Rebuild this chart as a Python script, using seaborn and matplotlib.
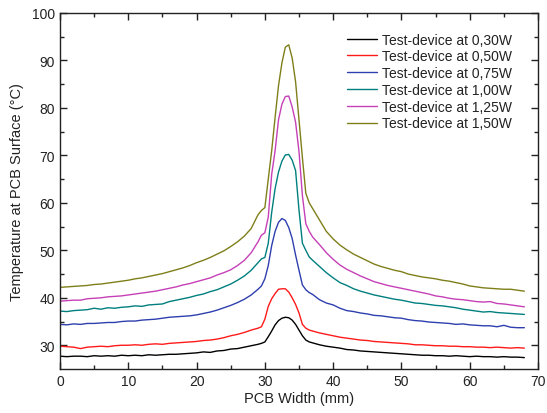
import numpy as np
import pandas as pd
import matplotlib
matplotlib.use("Agg")
import matplotlib.pyplot as plt
import seaborn as sns

# Shared x grid (mm)
x_mm = list(range(0, 30)) + [29.5, 30, 30.5, 31, 31.5, 32, 32.5, 33, 33.5, 34, 34.5, 35, 35.5, 36, 36.5, 37] + list(range(38, 69))

labels = ["Test-device at 0,30W", "Test-device at 0,50W", "Test-device at 0,75W",
          "Test-device at 1,00W", "Test-device at 1,25W", "Test-device at 1,50W"]

t_030 = [27.7, 27.6, 27.7, 27.7, 27.6, 27.8, 27.7, 27.8, 27.7, 27.9, 27.8, 27.9, 27.8, 28.0, 27.9, 28.0, 28.1, 28.1, 28.2, 28.3,
         28.4, 28.6, 28.5, 28.8, 28.9, 29.2, 29.3, 29.6, 29.9, 30.2,
         30.4, 30.7, 31.8, 33.0, 34.3, 35.2, 35.7, 35.9, 35.8, 35.3, 34.4, 33.2, 32.0, 31.1, 30.7, 30.5,
         30.1, 29.8, 29.6, 29.4, 29.1, 29.0, 28.8, 28.7, 28.6, 28.5, 28.4, 28.3, 28.2, 28.1, 28.0, 27.9,
         27.9, 27.8, 27.8, 27.7, 27.8, 27.7, 27.6, 27.7, 27.6, 27.6, 27.5, 27.6, 27.5, 27.5, 27.4]

t_050 = [29.8, 29.7, 29.6, 29.3, 29.6, 29.7, 29.8, 29.7, 29.9, 30.0, 30.0, 30.1, 30.0, 30.2, 30.3, 30.2, 30.4, 30.5, 30.6, 30.7,
         30.8, 31.0, 31.1, 31.3, 31.6, 32.0, 32.3, 32.7, 33.2, 33.6,
         33.9, 35.5, 38.2, 39.8, 40.9, 41.8, 41.9, 41.9, 41.2, 40.0, 38.6, 36.8, 34.4, 33.6, 33.2, 33.0,
         32.6, 32.3, 32.0, 31.7, 31.5, 31.3, 31.1, 31.0, 30.8, 30.7, 30.6, 30.5, 30.4, 30.3, 30.1, 30.1,
         30.0, 29.9, 29.9, 29.8, 29.8, 29.7, 29.7, 29.6, 29.6, 29.5, 29.6, 29.5, 29.4, 29.5, 29.4]

t_075 = [34.4, 34.3, 34.5, 34.4, 34.6, 34.6, 34.7, 34.8, 34.8, 35.0, 35.1, 35.1, 35.3, 35.4, 35.5, 35.7, 35.9, 36.0, 36.1, 36.2,
         36.4, 36.7, 37.0, 37.4, 37.9, 38.4, 39.0, 39.7, 40.6, 41.8,
         42.5, 44.0, 46.8, 51.0, 54.0, 55.9, 56.7, 56.3, 54.8, 52.5, 49.0, 45.8, 42.7, 41.7, 41.1, 40.7,
         39.6, 38.9, 38.5, 37.8, 37.3, 37.1, 36.8, 36.6, 36.3, 36.2, 36.0, 35.8, 35.7, 35.4, 35.2, 35.1,
         34.9, 34.8, 34.7, 34.6, 34.4, 34.5, 34.3, 34.2, 34.1, 34.1, 33.9, 34.2, 33.8, 33.7, 33.7]

t_100 = [37.2, 37.1, 37.3, 37.4, 37.5, 37.8, 37.6, 37.9, 37.8, 38.0, 38.1, 38.3, 38.2, 38.5, 38.6, 38.7, 39.2, 39.5, 39.8, 40.1,
         40.5, 40.8, 41.3, 41.7, 42.3, 42.9, 43.7, 44.6, 45.8, 47.4,
         48.2, 48.5, 51.5, 58.0, 63.0, 66.5, 68.8, 70.1, 70.2, 69.0, 66.8, 58.5, 51.5, 50.0, 48.6, 47.9,
         46.6, 45.3, 44.2, 43.2, 42.6, 41.9, 41.4, 41.0, 40.6, 40.3, 40.0, 39.7, 39.5, 39.2, 38.9, 38.8,
         38.6, 38.4, 38.3, 38.1, 37.9, 37.6, 37.4, 37.2, 37.0, 37.1, 36.9, 36.8, 36.7, 36.6, 36.5]

t_125 = [39.3, 39.4, 39.5, 39.5, 39.8, 39.9, 40.0, 40.2, 40.3, 40.4, 40.6, 40.8, 41.0, 41.2, 41.4, 41.7, 42.0, 42.3, 42.7, 43.0,
         43.4, 43.8, 44.2, 44.8, 45.3, 45.9, 46.8, 47.9, 49.5, 51.8,
         53.2, 53.7, 57.0, 66.0, 71.0, 77.5, 80.8, 82.4, 82.5, 80.2, 77.0, 70.8, 61.5, 55.6, 54.0, 52.8,
         51.2, 49.5, 48.1, 46.9, 46.0, 45.3, 44.6, 44.0, 43.4, 43.0, 42.6, 42.3, 42.0, 41.7, 41.4, 41.1,
         40.8, 40.4, 40.2, 39.9, 39.7, 39.6, 39.4, 39.2, 39.1, 39.2, 38.8, 38.7, 38.5, 38.3, 38.1]

t_150 = [42.2, 42.3, 42.4, 42.5, 42.6, 42.8, 42.9, 43.1, 43.3, 43.5, 43.7, 44.0, 44.2, 44.5, 44.8, 45.1, 45.5, 45.9, 46.3, 46.8,
         47.4, 47.9, 48.5, 49.2, 49.9, 50.8, 51.8, 53.0, 54.6, 57.5,
         58.4, 59.0, 65.0, 71.0, 78.0, 84.7, 89.5, 92.8, 93.3, 90.5, 85.5, 77.5, 69.5, 62.0, 60.0, 58.8,
         56.4, 54.0, 52.4, 51.1, 50.1, 49.2, 48.5, 47.8, 47.1, 46.6, 46.2, 45.8, 45.5, 45.0, 44.7, 44.4,
         44.2, 44.0, 43.7, 43.5, 43.2, 42.9, 42.5, 42.3, 42.1, 42.0, 41.9, 41.8, 41.8, 41.6, 41.4]

colors = ["#000000", "#ff1a1a", "#2e3fae", "#007f7f", "#c640b8", "#7f7f1a"]

series = [t_030, t_050, t_075, t_100, t_125, t_150]
frames = []
for lab, vals in zip(labels, series):
    frames.append(pd.DataFrame({"x": x_mm, "T": vals, "device": lab}))
df = pd.concat(frames, ignore_index=True)

sns.set_style("ticks")
plt.rcParams["font.family"] = ["Liberation Sans", "DejaVu Sans"]
plt.rcParams["text.color"] = "#222222"
plt.rcParams["axes.labelcolor"] = "#222222"
plt.rcParams["xtick.color"] = "#222222"
plt.rcParams["ytick.color"] = "#222222"

fig = plt.figure(figsize=(5.47, 4.14), dpi=100)
ax = fig.add_axes([60 / 547, 1 - 370 / 414, 478 / 547, 356 / 414])

sns.lineplot(data=df, x="x", y="T", hue="device", palette=colors, hue_order=labels,
             estimator=None, sort=False, linewidth=1.0, ax=ax)

ax.set_xlim(0, 70)
ax.set_ylim(25, 100)
ax.set_xticks(np.arange(0, 71, 10))
ax.set_xticks(np.arange(5, 70, 10), minor=True)
ax.set_yticks(np.arange(30, 101, 10))
ax.set_yticks(np.arange(35, 100, 10), minor=True)
ax.tick_params(which="both", direction="in", top=True, right=True, labelsize=10, width=1.0)
ax.tick_params(which="major", length=5)
ax.tick_params(which="minor", length=3)
for s in ax.spines.values():
    s.set_linewidth(1.0)
    s.set_color("#222222")

ax.set_xlabel("PCB Width (mm)", fontsize=10.5, labelpad=2)
ax.set_ylabel("Temperature at PCB Surface (\u00b0C)", fontsize=10.5, labelpad=6)

leg = ax.legend(loc="upper left", bbox_to_anchor=(0.600, 0.945), frameon=False, fontsize=10,
                handlelength=2.2, handletextpad=0.3, labelspacing=0.2, borderpad=0, borderaxespad=0)

fig.savefig("out.png", dpi=100)
